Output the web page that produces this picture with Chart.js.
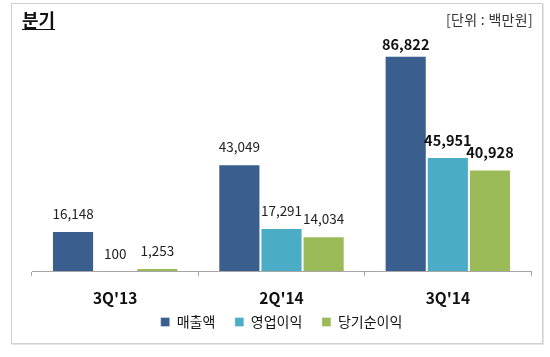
<!DOCTYPE html>
<html>
<head>
<meta charset="utf-8">
<script src="https://cdn.jsdelivr.net/npm/chart.js@4.4.1/dist/chart.umd.min.js"></script>
<style>
  html, body { margin: 0; padding: 0; background: #fff; }
  #wrap { position: relative; width: 550px; height: 357px; }
  #frame { position: absolute; left: 11px; top: 3px; width: 530px; height: 339px; border: 1px solid #d0d0d0; box-shadow: 1px 1px 0 #e4e4e4; pointer-events: none; }
  #title { position: absolute; left: 22px; top: 6px; font: bold 18px "Noto Sans CJK KR", sans-serif; color: #111; text-decoration: underline; text-underline-offset: 2px; }
  #unit { position: absolute; right: 17px; top: 9px; font: 14px "Noto Sans CJK KR", sans-serif; color: #333; letter-spacing: 0.3px; }
  canvas { position: absolute; left: 0; top: 0; }
</style>
</head>
<body>
<div id="wrap">
  <canvas id="c" width="550" height="357"></canvas>
  <div id="frame"></div>
  <div id="title">분기</div>
  <div id="unit">[단위 : 백만원]</div>
</div>
<script>
const categories = ["3Q'13", "2Q'14", "3Q'14"];
const seriesNames = ["매출액", "영업이익", "당기순이익"];
const revenue = [16148, 43049, 86822];
const operatingProfit = [100, 17291, 45951];
const netIncome = [1253, 14034, 40928];
const boldCategory = [false, false, true];

const colors = ["#3A5E8E", "#4BACC6", "#9BBB59"];
const allSeries = [revenue, operatingProfit, netIncome];

const valueLabels = {
  id: 'valueLabels',
  afterDatasetsDraw(chart) {
    const ctx = chart.ctx;
    ctx.save();
    ctx.textAlign = 'center';
    ctx.textBaseline = 'middle';
    chart.data.datasets.forEach((ds, di) => {
      const meta = chart.getDatasetMeta(di);
      meta.data.forEach((el, i) => {
        const v = ds.data[i];
        const bold = boldCategory[i];
        ctx.font = (bold ? 'bold 14.5px' : '13.5px') + ' "Noto Sans CJK KR", sans-serif';
        ctx.fillStyle = bold ? '#111' : '#222';
        const gap = (di === 0 && bold) ? 11 : 17;
        ctx.fillText(v.toLocaleString('en-US'), el.x, el.y - gap);
      });
    });
    ctx.restore();
  }
};

new Chart(document.getElementById('c'), {
  type: 'bar',
  data: {
    labels: categories,
    datasets: seriesNames.map((n, k) => ({
      label: n,
      data: allSeries[k],
      backgroundColor: colors[k],
      borderColor: 'rgba(255,255,255,0.35)',
      borderWidth: 1,
      categoryPercentage: 0.76,
      barPercentage: 1.0
    }))
  },
  options: {
    responsive: false,
    animation: false,
    layout: { padding: { left: 32, right: 19, top: 23, bottom: 18 } },
    plugins: {
      tooltip: { enabled: false },
      legend: {
        position: 'bottom',
        labels: {
          boxWidth: 9, boxHeight: 9, padding: 7,
          color: '#111',
          font: { size: 14, family: '"Noto Sans CJK KR", sans-serif' },
          generateLabels(chart) {
            const items = Chart.defaults.plugins.legend.labels.generateLabels(chart);
            items.forEach((it, i) => { if (i < items.length - 1) it.text = it.text + '\u00A0\u00A0\u00A0\u00A0'; });
            return items;
          }
        }
      }
    },
    scales: {
      x: {
        afterFit(scale) { scale.height = 37; },
        grid: { offset: true, drawOnChartArea: false, drawTicks: true, tickLength: 5, color: '#A6A6A6' },
        border: { display: true, color: '#A6A6A6', width: 1 },
        ticks: { padding: 13, color: '#111', font: { size: 15.5, weight: 'bold', family: '"Noto Sans CJK KR", sans-serif' } }
      },
      y: { display: false, min: 0, max: 100000 }
    }
  },
  plugins: [valueLabels]
});
</script>
</body>
</html>
